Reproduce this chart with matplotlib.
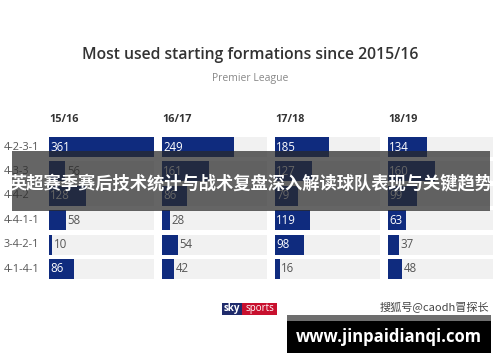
import matplotlib
matplotlib.use("Agg")
import matplotlib.pyplot as plt
from matplotlib.patches import Rectangle

seasons = ["15/16", "16/17", "17/18", "18/19"]
formations = ["4-2-3-1", "4-3-3", "4-4-2", "4-4-1-1", "3-4-2-1", "4-1-4-1"]
v1516 = [361, 56, 128, 58, 10, 86]
v1617 = [249, 161, 86, 28, 54, 42]
v1718 = [185, 127, 79, 119, 98, 16]
v1819 = [134, 160, 99, 63, 37, 48]
values = [v1516, v1617, v1718, v1819]

W, H = 500, 362
fig = plt.figure(figsize=(W / 100, H / 100), dpi=100)
fig.patch.set_facecolor("white")

BAR = "#0f2b7e"
TRACK = "#f1f1f1"
vmax = max(max(v) for v in values)

def fx(px):
    return px / W

def fy(py):
    return 1 - py / H

left0, step, width = 49, 113, 105
top, bottom = 134.8, 281.2

fig.text(0.5, fy(55), "Most used starting formations since 2015/16", ha="center", va="center",
         fontsize=11.3, color="#333333", family="Open Sans", weight="semibold")
fig.text(0.5, fy(79), "Premier League", ha="center", va="center",
         fontsize=7.5, color="#888888", family="Open Sans")

for i, (season, vals) in enumerate(zip(seasons, values)):
    x0 = left0 + i * step
    ax = fig.add_axes([fx(x0), fy(bottom), width / W, (bottom - top) / H])
    ax.set_xlim(0, vmax)
    ax.set_ylim(len(formations) - 0.5, -0.5)
    ax.axis("off")
    ypos = range(len(formations))
    ax.barh(ypos, [vmax] * len(formations), height=0.82, color=TRACK, zorder=1)
    ax.barh(ypos, vals, height=0.82, color=BAR, zorder=2)
    for y, v in zip(ypos, vals):
        if v >= 60:
            ax.text(4, y, str(v), ha="left", va="center", color="white",
                    fontsize=8.3, family="Open Sans", zorder=3)
        else:
            ax.text(v + 6, y, str(v), ha="left", va="center", color="#555555",
                    fontsize=8.3, family="Open Sans", zorder=3)
    ax.text(0, -0.5 - 0.4, season, ha="left", va="bottom", color="#333333",
            fontsize=7.8, family="Open Sans", weight="bold")
    if i == 0:
        for y, f in zip(ypos, formations):
            fig.text(fx(4), fy(top + (y + 0.5) * (bottom - top) / 6), f, ha="left", va="center",
                     fontsize=7.8, color="#555555", family="Open Sans")

# overlay band with Chinese title
fig.patches.append(Rectangle((fx(12), fy(211)), fx(490) - fx(12), (211 - 151) / H,
                             transform=fig.transFigure, facecolor="#2a2a2a", alpha=0.72,
                             edgecolor="none", zorder=5))
fig.text(fx(251), fy(183), "英超赛季赛后技术统计与战术复盘深入解读球队表现与关键趋势",
         ha="center", va="center", fontsize=12.4, color="white", weight="bold",
         family=["Noto Sans CJK SC", "DejaVu Sans"], zorder=6)

# sky sports logo
fig.patches.append(Rectangle((fx(222), fy(315)), 20 / W, 12 / H, transform=fig.transFigure,
                             facecolor="#1f2b6b", edgecolor="none", zorder=5))
fig.patches.append(Rectangle((fx(242), fy(315)), 35 / W, 12 / H, transform=fig.transFigure,
                             facecolor="#c8102e", edgecolor="none", zorder=5))
fig.text(fx(232), fy(309), "sky", ha="center", va="center", fontsize=7, color="white",
         weight="bold", family="Open Sans", zorder=6)
fig.text(fx(259.5), fy(309), "sports", ha="center", va="center", fontsize=7, color="white",
         family="Open Sans", zorder=6)

# watermark
fig.text(fx(489), fy(307), "搜狐号@caodh冒探长", ha="right", va="center", fontsize=8,
         color="#444444", family=["Noto Sans CJK SC", "DejaVu Sans"], zorder=6)

# black site box
fig.patches.append(Rectangle((fx(287), fy(353)), 204 / W, 38 / H, transform=fig.transFigure,
                             facecolor="black", edgecolor="none", zorder=5))
fig.patches.append(Rectangle((fx(287), fy(321)), 204 / W, 6 / H, transform=fig.transFigure,
                             facecolor="#6e6e6e", edgecolor="none", zorder=6))
fig.text(fx(389), fy(337), "www.jinpaidianqi.com", ha="center", va="center", fontsize=12,
         color="white", weight="bold", family="Open Sans", zorder=7)

fig.savefig("out.png", dpi=100)
